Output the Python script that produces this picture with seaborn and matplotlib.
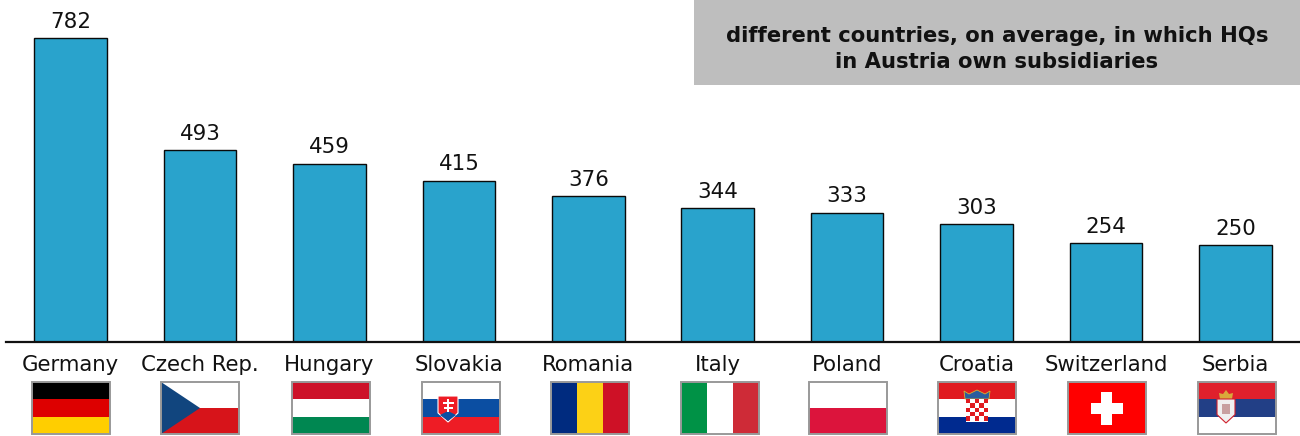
import pandas as pd
import seaborn as sns
import matplotlib.pyplot as plt
from matplotlib.patches import Rectangle, Polygon

countries = ['Germany', 'Czech Rep.', 'Hungary', 'Slovakia', 'Romania',
             'Italy', 'Poland', 'Croatia', 'Switzerland', 'Serbia']
values = [782, 493, 459, 415, 376, 344, 333, 303, 254, 250]
title_text = 'different countries, on average, in which HQs\nin Austria own subsidiaries'

flag_left = [32, 161, 292, 422, 551, 681, 809, 938, 1068, 1198]
flag_stripes = [
    ('h', ['#000000', '#DD0000', '#FFCE00']),
    ('h', ['#FFFFFF', '#D7141A']),
    ('h', ['#CD1229', '#FFFFFF', '#008751']),
    ('h', ['#FFFFFF', '#0B4EA2', '#EE1C25']),
    ('v', ['#002B7F', '#FCD116', '#CE1126']),
    ('v', ['#009246', '#FFFFFF', '#CE2B37']),
    ('h', ['#FFFFFF', '#DC143C']),
    ('h', ['#E01A1F', '#FFFFFF', '#002A8F']),
    ('h', ['#FF0000']),
    ('h', ['#E0202C', '#223F86', '#FFFFFF']),
]
flag_w = 78
flag_h = 52
flag_top = 382

sns.set_theme(style='white')
plt.rcParams['font.family'] = ['DejaVu Sans']

fig = plt.figure(figsize=(13, 4.36), dpi=100)
ax = fig.add_axes([6 / 1300, (436 - 342) / 436, 1294 / 1300, 342 / 436])

df = pd.DataFrame({'country': countries, 'value': values})
sns.barplot(data=df, x='country', y='value', ax=ax, color='#29A3CC', saturation=1,
            width=0.56, edgecolor='#0A0A0A', linewidth=1)
ax.bar_label(ax.containers[0], fontsize=15.4, color='#111111', padding=4.5)

ax.set_xlim(-0.5, 9.5)
ax.set_ylim(0, 880)
ax.set_xlabel('')
ax.set_ylabel('')
ax.set_yticks([])
ax.tick_params(axis='x', length=0, pad=9.5, labelsize=15.3, labelcolor='#111111')
for side in ['top', 'left', 'right']:
    ax.spines[side].set_visible(False)
ax.spines['bottom'].set_color('#111111')
ax.spines['bottom'].set_linewidth(1.6)

# overlay in pixel coordinates for the grey box and the flags
ov = fig.add_axes([0, 0, 1, 1], zorder=5)
ov.set_xlim(0, 1300)
ov.set_ylim(436, 0)
ov.axis('off')
ov.patch.set_alpha(0)

ov.add_patch(Rectangle((694, 0), 606, 85, color='#BEBEBE', lw=0))
ov.text(997, 49, title_text, ha='center', va='center', fontsize=15.25,
        fontweight='bold', color='#111111', linespacing=1.38)


def shield(x, y, w, h, color, edge='#FFFFFF'):
    pts = [(x, y), (x + w, y), (x + w, y + h * 0.65), (x + w / 2, y + h), (x, y + h * 0.65)]
    ov.add_patch(Polygon(pts, closed=True, fc=color, ec=edge, lw=0.8))


for x, (kind, cols) in zip(flag_left, flag_stripes):
    n = len(cols)
    for i, c in enumerate(cols):
        if kind == 'h':
            ov.add_patch(Rectangle((x, flag_top + i * flag_h / n), flag_w, flag_h / n, fc=c, lw=0))
        else:
            ov.add_patch(Rectangle((x + i * flag_w / n, flag_top), flag_w / n, flag_h, fc=c, lw=0))

# Czech triangle
x = flag_left[1]
ov.add_patch(Polygon([(x, flag_top), (x + 39, flag_top + 26), (x, flag_top + 52)], fc='#11457E', lw=0))

# Slovak shield
x = flag_left[3]
shield(x + 16, flag_top + 14, 20, 26, '#EE1C25')
ov.add_patch(Polygon([(x + 18, flag_top + 33), (x + 26, flag_top + 29), (x + 34, flag_top + 33),
                      (x + 26, flag_top + 39)], fc='#0B4EA2', lw=0))
ov.add_patch(Rectangle((x + 25, flag_top + 17), 2.4, 13, fc='white', lw=0))
ov.add_patch(Rectangle((x + 20.5, flag_top + 20), 11, 2, fc='white', lw=0))
ov.add_patch(Rectangle((x + 21.5, flag_top + 24.5), 9, 2, fc='white', lw=0))

# Croatian arms
x = flag_left[7]
ov.add_patch(Polygon([(x + 26, flag_top + 9), (x + 31, flag_top + 12), (x + 39, flag_top + 8),
                      (x + 47, flag_top + 12), (x + 52, flag_top + 9), (x + 51, flag_top + 17),
                      (x + 27, flag_top + 17)], fc='#2A5C9E', ec='#D8B030', lw=0.6))
ov.add_patch(Rectangle((x + 28, flag_top + 17), 22, 23, fc='white', lw=0))
sq = 4.4
for r in range(5):
    for k in range(5):
        if (r + k) % 2 == 0:
            ov.add_patch(Rectangle((x + 28 + k * sq, flag_top + 17 + r * sq * 0.98), sq, sq, fc='#E01A1F', lw=0))

# Swiss cross
x = flag_left[8]
ov.add_patch(Rectangle((x + 33, flag_top + 10), 11, 33, fc='white', lw=0))
ov.add_patch(Rectangle((x + 22.5, flag_top + 21), 32.5, 11, fc='white', lw=0))

# Serbian arms
x = flag_left[9]
ov.add_patch(Polygon([(x + 21, flag_top + 11), (x + 25, flag_top + 12), (x + 28, flag_top + 8),
                      (x + 31, flag_top + 12), (x + 35, flag_top + 11), (x + 34, flag_top + 17),
                      (x + 22, flag_top + 17)], fc='#D9A93A', lw=0))
shield(x + 19, flag_top + 17, 18, 24, '#F0F0F0', edge='#D0202C')
ov.add_patch(Rectangle((x + 24, flag_top + 22), 8, 10, fc='#C8A0A0', lw=0))

for x in flag_left:
    ov.add_patch(Rectangle((x, flag_top), flag_w, flag_h, fill=False, ec='#999999', lw=1.4))

fig.savefig('out.png', dpi=100)
